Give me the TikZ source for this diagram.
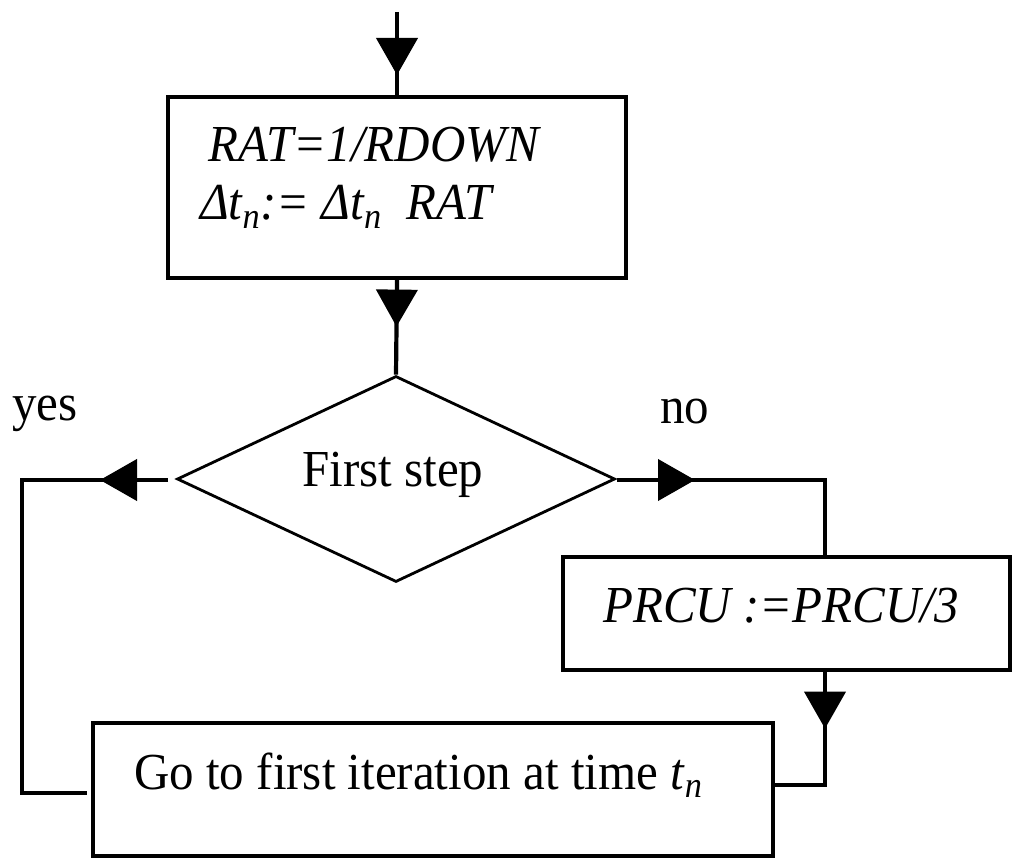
\documentclass[tikz,border=0pt]{standalone}
\usepackage{fontspec}
\usepackage{graphicx}
\setmainfont{Liberation Serif}
\usetikzlibrary{arrows.meta,decorations.markings,shapes.geometric}

% slightly tall serif lettering
\newcommand{\tall}[1]{\scalebox{1}[1.06]{#1}}

\tikzset{
  txt/.style={inner sep=0pt, anchor=base west, font=\fontsize{49}{58}\selectfont},
  procbox/.style={draw, line width=3.2pt, rectangle, inner sep=0pt},
  decision/.style={draw, line width=2.8pt, diamond, inner sep=0pt},
  conn/.style={line width=4.2pt},
  arrowat/.style={postaction={decorate}, decoration={markings,
      mark=at position #1 with {\arrow{Triangle[length=37pt,width=41pt]}}}}
}

\begin{document}
\begin{tikzpicture}[x=1pt,y=-1pt]
\useasboundingbox (0,0) rectangle (1016,858);

% boxes and decision
\node[procbox, minimum width=458pt, minimum height=181pt] (calc) at (397,187.5) {};
\node[decision, minimum width=438pt, minimum height=206pt] (dia) at (396,479) {};
\node[procbox, minimum width=447pt, minimum height=113pt] (prcu) at (786.5,613.5) {};
\node[procbox, minimum width=680pt, minimum height=133pt] (go) at (433,789.5) {};

% texts
\node[txt] (l1) at (208,162) {\tall{\itshape RAT=1/RDOWN}};
\node[txt] (l2) at (200,220) {\tall{\itshape Δt\textsubscript{n}:= Δt\textsubscript{n}\ \ RAT}};
\node[txt] (fs) at (302,486) {\tall{First step}};
\node[txt] (yes) at (12,420) {\tall{yes}};
\node[txt] (no) at (660,423) {\tall{no}};
\node[txt] (pl) at (603,622) {\tall{\itshape PRCU :=PRCU/3}};
\node[txt] (gl) at (134,789) {\tall{Go to first iteration at time \textit{t}\textsubscript{\textit{n}}}};

% connector end points
\coordinate (top) at (397,12);
\coordinate (ys) at (168,480);
\coordinate (ycorner) at (22,480);
\coordinate (ye) at (87,793);
\coordinate (ns) at (617,480);
\coordinate (ncorner) at (825,480);
\coordinate (pcorner) at (825,785);

% connectors
\draw[conn, arrowat=63pt] (top) -- (calc.north);
\draw[conn, arrowat=47pt] (calc.south) -- (dia.north);
\draw[conn, arrowat=68pt] (ys) -- (ycorner) -- (ye -| ycorner) -- (ye);
\draw[conn, arrowat=78pt] (ns) -- (ncorner) -- (prcu.north -| ncorner);
\draw[conn, arrowat=57pt] (prcu.south -| pcorner) -- (pcorner) -- (go.east |- pcorner);
\end{tikzpicture}
\end{document}
